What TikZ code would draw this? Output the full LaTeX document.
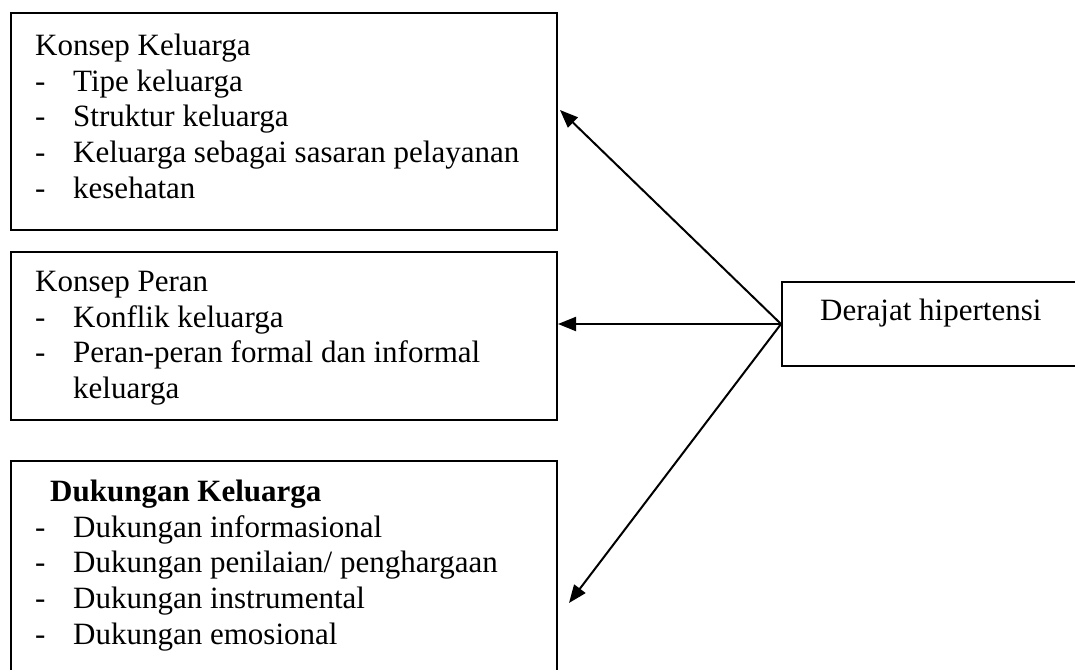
\documentclass[tikz,border=0pt]{standalone}
\usepackage{fontspec}
\setmainfont{Liberation Serif}
\usetikzlibrary{arrows.meta,positioning}
\newcommand{\itm}[1]{\makebox[38pt][l]{-}#1}

\begin{document}
\begin{tikzpicture}[x=1pt, y=-1pt,
    box/.style={rectangle, draw, line width=2pt, inner sep=0pt},
    txt/.style={anchor=north west, inner sep=0pt, align=left, font=\fontsize{31}{35.6}\selectfont},
    arrow/.style={-{Triangle[length=18pt,width=14pt]}, line width=2pt}
  ]
    \clip (0,0) rectangle (1075,669);
    \node[box, minimum width=546pt, minimum height=217pt] (keluarga) at (284,121.5) {};
    \node[box, minimum width=546pt, minimum height=168pt] (peran) at (284,336) {};
    \node[box, minimum width=546pt, minimum height=229pt] (dukungan) at (284,575.5) {};
    \node[box, minimum width=313pt, minimum height=84pt] (derajat) at (938.5,324) {};

    \node[txt] (keluargatxt) at (35,34) {Konsep Keluarga\\ \itm{Tipe keluarga}\\ \itm{Struktur keluarga}\\ \itm{Keluarga sebagai sasaran pelayanan}\\ \itm{kesehatan}};
    \node[txt] (perantxt) at (35,271) {Konsep Peran\\ \itm{Konflik keluarga}\\ \itm{Peran-peran formal dan informal}\\ \hspace*{38pt}keluarga};
    \node[txt] (dukungantxt) at (35,480) {\hspace*{15pt}\textbf{Dukungan Keluarga}\\ \itm{Dukungan informasional}\\ \itm{Dukungan penilaian/ penghargaan}\\ \itm{Dukungan instrumental}\\ \itm{Dukungan emosional}};
    \node[txt] (derajattxt) at (820,299) {Derajat hipertensi};

    \coordinate (tipkel) at (560,110);
    \coordinate (tipduk) at (569,603);

    \draw[arrow] (derajat.west) -- (tipkel);
    \draw[arrow] (derajat.west) -- (peran.east |- derajat.west);
    \draw[arrow] (derajat.west) -- (tipduk);
  \end{tikzpicture}
\end{document}
